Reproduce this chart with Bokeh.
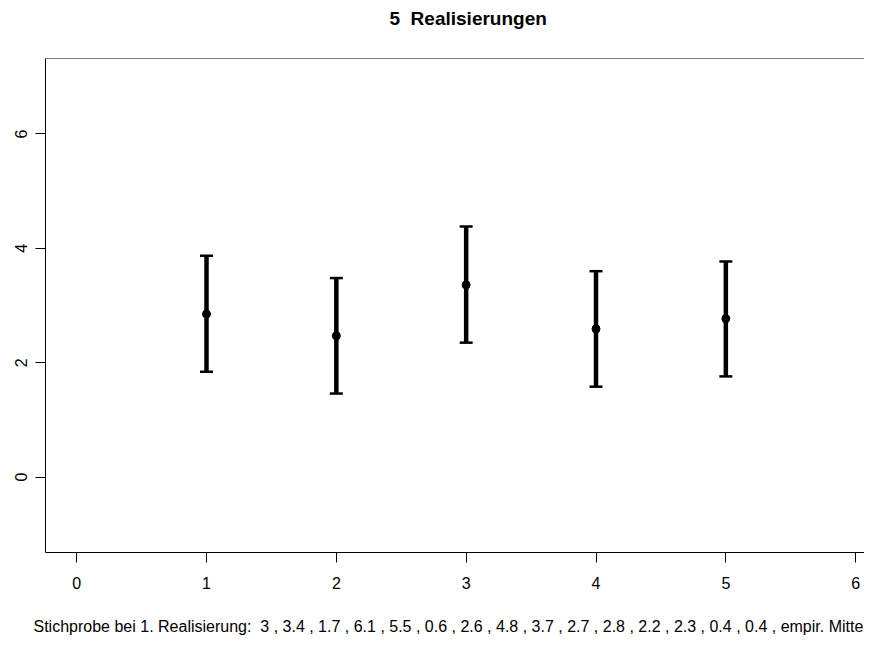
from bokeh.plotting import figure
from bokeh.models import (ColumnDataSource, Whisker, TeeHead, Span, Title,
                          FixedTicker, Range1d)
from bokeh.embed import file_html
from bokeh.resources import INLINE

# ---- data ----
realisierung = [1, 2, 3, 4, 5]
mittel = [2.85, 2.47, 3.36, 2.59, 2.77]
untere = [1.84, 1.46, 2.35, 1.58, 1.76]
obere = [3.87, 3.48, 4.38, 3.60, 3.77]
stichprobe = [3, 3.4, 1.7, 6.1, 5.5, 0.6, 2.6, 4.8, 3.7, 2.7, 2.8, 2.2, 2.3, 0.4, 0.4]
empir_mittel = 2.85
x_ticks = [0, 1, 2, 3, 4, 5, 6]
y_ticks = [0, 2, 4, 6]
NB = "\u00a0"
titel = "%d %sRealisierungen" % (len(realisierung), NB)

FONT = "Liberation Sans"

p = figure(width=864, height=637, output_backend="svg", toolbar_location=None,
           title=None,
           x_range=Range1d(-0.24, 6.068), y_range=Range1d(-1.32, 7.32),
           min_border_left=45, min_border_top=58, min_border_bottom=85,
           min_border_right=0)
p.outline_line_color = None
p.grid.visible = False
p.background_fill_color = "white"
p.border_fill_color = "white"

for ax, ticks in ((p.xaxis, x_ticks), (p.yaxis, y_ticks)):
    ax.ticker = FixedTicker(ticks=ticks)
    ax.minor_tick_line_color = None
    ax.major_tick_in = 0
    ax.major_tick_out = 10
    ax.major_tick_line_color = "black"
    ax.axis_line_color = "black"
    ax.axis_line_width = 1
    ax.major_label_text_font = FONT
    ax.major_label_text_font_size = "16px"
    ax.major_label_text_color = "black"

p.xaxis.major_label_standoff = 14
p.yaxis.major_label_standoff = 8
p.yaxis.major_label_orientation = "vertical"


def spacer(px):
    # thin empty panel used only to push the text panels outward
    return Title(text=" ", text_font_size="1px", standoff=px, text_color="white")


# title (R style: bold, over the plot region)
p.add_layout(spacer(25), "above")
p.add_layout(Title(text=titel, align="left", offset=344, text_font=FONT,
                   text_font_size="19px", text_font_style="bold",
                   text_color="black", standoff=0, vertical_align="top"),
             "above")

# top border of the box
p.add_layout(Span(location=7.32, dimension="width", line_color="black", line_width=1))

src = ColumnDataSource(dict(x=realisierung, m=mittel, lo=untere, hi=obere))
whisk = Whisker(base="x", lower="lo", upper="hi", source=src,
                line_color="black", line_width=4.5,
                upper_head=TeeHead(size=13, line_width=2.5, line_color="black"),
                lower_head=TeeHead(size=13, line_width=2.5, line_color="black"))
p.add_layout(whisk)
p.scatter("x", "m", source=src, size=8, color="black")

unten = ("Stichprobe bei 1. Realisierung: " + NB + " , ".join(str(v) for v in stichprobe)
         + " , empir. Mittel: " + str(empir_mittel))
p.add_layout(spacer(23), "below")
p.add_layout(Title(text=unten, align="left", offset=-12, text_font=FONT,
                   text_font_size="16px", text_font_style="normal",
                   text_color="black", standoff=0, vertical_align="top"),
             "below")

open("out.html", "w").write(file_html(p, INLINE))
